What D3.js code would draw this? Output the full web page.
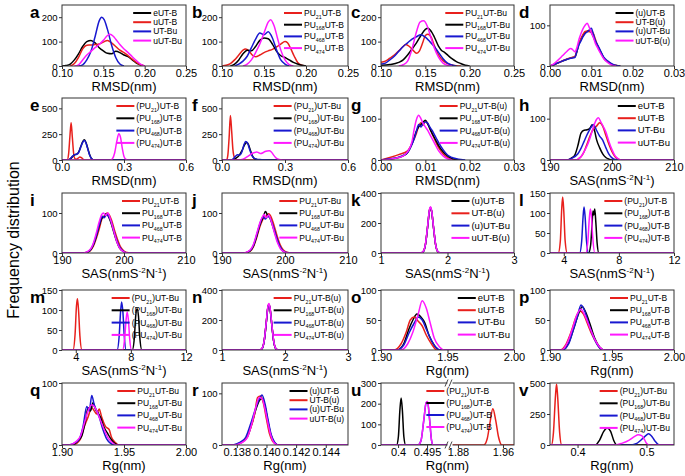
<!DOCTYPE html>
<html><head><meta charset="utf-8">
<script src="https://cdn.jsdelivr.net/npm/d3@7"></script>
<style>body{margin:0;background:#fff}svg{font-family:"Liberation Sans",Arial,sans-serif}</style>
</head><body><svg id="c" width="685" height="476"></svg>
<script>
// ---------- legend names ----------
const N_E = ['eUT-B','uUT-B','UT-Bu','uUT-Bu'];
const N_PU_B = ['PU_{21}UT-B','PU_{168}UT-B','PU_{468}UT-B','PU_{474}UT-B'];
const N_PU_BU = ['PU_{21}UT-Bu','PU_{168}UT-Bu','PU_{468}UT-Bu','PU_{474}UT-Bu'];
const N_U = ['(u)UT-B','UT-B(u)','(u)UT-Bu','uUT-B(u)'];
const N_PPU_B = ['(PU_{21})UT-B','(PU_{168})UT-B','(PU_{468})UT-B','(PU_{474})UT-B'];
const N_PPU_BU = ['(PU_{21})UT-Bu','(PU_{168})UT-Bu','(PU_{468})UT-Bu','(PU_{474})UT-Bu'];
const N_PU_BUU = ['PU_{21}UT-B(u)','PU_{168}UT-B(u)','PU_{468}UT-B(u)','PU_{474}UT-B(u)'];
// ---------- tick labels ----------
const T_RMSD1 = [0.10,0.15,0.20,0.25];
const T_RMSD2 = [0.00,0.01,0.02,0.03];
const T_RMSD3 = [0.0,0.3,0.6];
const T_SAS1 = [190,200,210];
const T_SAS2 = [1,2,3];
const T_SAS3 = [4,8,12];
const T_RG1 = [1.90,1.95,2.00];
const T_RG2 = [0.138,0.140,0.142,0.144];
const T_RG3L = [0.4,0.495];
const T_RG3R = [1.88,1.96];
const T_RG4 = [0.4,0.5];
// ---------- a ----------
const a_eUTB = [[0.10,0],[0.105,2],[0.11,8],[0.115,25],[0.12,50],[0.125,80],[0.13,100],[0.135,105],[0.14,95],[0.145,75],[0.15,62],[0.155,52],[0.16,50],[0.165,60],[0.17,55],[0.175,45],[0.18,38],[0.185,25],[0.19,12],[0.195,4],[0.20,0]];
const a_uUTB = [[0.11,0],[0.115,10],[0.12,35],[0.125,70],[0.13,85],[0.135,86],[0.14,88],[0.145,90],[0.15,98],[0.155,105],[0.16,95],[0.165,80],[0.17,65],[0.175,55],[0.18,42],[0.185,28],[0.19,15],[0.195,5],[0.20,0]];
const a_UTBu = [[0.12,0],[0.125,5],[0.13,25],[0.135,60],[0.14,120],[0.145,185],[0.148,200],[0.151,190],[0.155,150],[0.16,85],[0.165,35],[0.17,8],[0.175,0]];
const a_uUTBu = [[0.115,0],[0.12,5],[0.125,25],[0.13,45],[0.135,60],[0.14,75],[0.145,88],[0.15,105],[0.155,125],[0.158,130],[0.162,122],[0.165,110],[0.17,88],[0.175,70],[0.18,55],[0.185,38],[0.19,22],[0.195,8],[0.20,0]];
// ---------- b ----------
const b_21 = [[0.10,0],[0.105,3],[0.11,10],[0.115,25],[0.12,45],[0.125,65],[0.128,70],[0.132,62],[0.136,45],[0.14,38],[0.145,45],[0.15,55],[0.155,62],[0.16,68],[0.165,78],[0.17,90],[0.175,100],[0.178,95],[0.182,70],[0.186,40],[0.19,15],[0.195,3],[0.20,0]];
const b_168 = [[0.11,0],[0.115,8],[0.12,25],[0.125,50],[0.13,65],[0.135,62],[0.14,80],[0.145,105],[0.15,115],[0.155,112],[0.16,90],[0.165,60],[0.17,42],[0.175,35],[0.18,25],[0.185,15],[0.19,8],[0.195,3],[0.20,0]];
const b_468 = [[0.115,0],[0.12,8],[0.125,20],[0.13,40],[0.135,75],[0.14,110],[0.145,135],[0.15,128],[0.155,140],[0.16,115],[0.165,65],[0.17,25],[0.175,8],[0.18,0]];
const b_474 = [[0.125,0],[0.13,8],[0.135,25],[0.14,55],[0.145,90],[0.15,135],[0.155,180],[0.158,190],[0.162,165],[0.166,115],[0.17,65],[0.175,25],[0.18,6],[0.185,0]];
// ---------- c ----------
const c_21 = [[0.10,15],[0.105,20],[0.11,32],[0.115,45],[0.12,62],[0.125,80],[0.128,88],[0.132,80],[0.136,65],[0.14,52],[0.143,60],[0.147,95],[0.15,125],[0.153,130],[0.157,115],[0.16,85],[0.165,45],[0.17,22],[0.175,10],[0.18,4],[0.185,1],[0.19,0]];
const c_168 = [[0.10,3],[0.11,6],[0.12,15],[0.125,25],[0.13,45],[0.135,70],[0.14,95],[0.145,125],[0.15,150],[0.153,155],[0.157,140],[0.16,120],[0.165,80],[0.168,65],[0.172,55],[0.176,42],[0.18,30],[0.185,18],[0.19,10],[0.195,3],[0.20,0]];
const c_468 = [[0.10,8],[0.105,12],[0.11,25],[0.115,40],[0.12,60],[0.125,80],[0.13,95],[0.135,110],[0.14,120],[0.145,128],[0.15,118],[0.155,100],[0.16,80],[0.165,55],[0.17,30],[0.175,12],[0.18,4],[0.185,0]];
const c_474 = [[0.12,0],[0.125,5],[0.13,20],[0.135,70],[0.14,140],[0.144,180],[0.148,185],[0.152,165],[0.156,120],[0.16,75],[0.165,35],[0.17,12],[0.175,3],[0.18,0]];
// ---------- d ----------
const d_uUTB = [[0,0],[0.001,3],[0.002,8],[0.003,12],[0.004,16],[0.005,20],[0.006,22],[0.0065,35],[0.007,55],[0.0075,65],[0.008,75],[0.0085,82],[0.009,85],[0.0095,88],[0.010,82],[0.0105,72],[0.011,60],[0.0115,50],[0.012,40],[0.0125,30],[0.013,20],[0.014,10],[0.015,4],[0.016,1],[0.017,0]];
const d_UTBu_ = [[0,0],[0.002,8],[0.004,17],[0.005,20],[0.006,23],[0.0065,38],[0.007,55],[0.0075,68],[0.008,78],[0.0085,85],[0.009,86],[0.0095,84],[0.010,86],[0.0105,80],[0.011,65],[0.0115,50],[0.012,38],[0.013,20],[0.014,10],[0.015,4],[0.016,1],[0.017,0]];
const d_uUTBu = [[0,0],[0.002,8],[0.004,16],[0.005,19],[0.006,21],[0.0065,36],[0.007,52],[0.0075,62],[0.008,72],[0.0085,80],[0.009,84],[0.0095,88],[0.010,93],[0.0105,78],[0.011,62],[0.0115,52],[0.012,42],[0.013,22],[0.014,12],[0.015,5],[0.016,1],[0.017,0]];
const d_uUTBu_ = [[0,0],[0.001,6],[0.002,15],[0.003,25],[0.004,35],[0.005,43],[0.0055,40],[0.006,35],[0.0065,45],[0.007,65],[0.0075,80],[0.008,92],[0.0085,100],[0.009,105],[0.0095,95],[0.010,82],[0.0105,70],[0.011,55],[0.0115,45],[0.012,35],[0.013,18],[0.014,8],[0.015,2],[0.016,0]];
// ---------- e ----------
const e_21 = [[0,0],[0.025,0],[0.032,60],[0.038,220],[0.044,360],[0.05,220],[0.056,70],[0.062,15],[0.07,8],[0.078,18],[0.086,28],[0.094,22],[0.102,8],[0.11,0],[0.6,0]];
const e_168 = [[0,0],[0.03,0],[0.04,10],[0.05,30],[0.06,50],[0.07,55],[0.08,75],[0.09,125],[0.1,175],[0.108,195],[0.116,170],[0.125,110],[0.134,50],[0.142,15],[0.15,3],[0.16,0],[0.6,0]];
const e_468 = [[0,0],[0.03,0],[0.04,12],[0.05,35],[0.06,52],[0.07,55],[0.08,70],[0.09,120],[0.1,170],[0.108,188],[0.116,165],[0.125,105],[0.134,45],[0.142,15],[0.15,4],[0.16,0],[0.6,0]];
const e_474 = [[0,0],[0.235,0],[0.245,15],[0.255,70],[0.265,180],[0.275,255],[0.283,220],[0.292,110],[0.3,35],[0.31,6],[0.32,0],[0.6,0]];
// ---------- f ----------
const f_21 = [[0,0],[0.022,0],[0.028,50],[0.034,220],[0.04,430],[0.046,280],[0.052,100],[0.06,20],[0.07,3],[0.08,0],[0.6,0]];
const f_168 = [[0,0],[0.05,0],[0.065,15],[0.08,40],[0.095,90],[0.108,150],[0.118,170],[0.126,150],[0.135,95],[0.145,40],[0.155,12],[0.17,3],[0.19,0],[0.6,0]];
const f_468 = [[0,0],[0.045,0],[0.055,15],[0.065,38],[0.075,50],[0.085,48],[0.095,80],[0.105,150],[0.113,178],[0.122,160],[0.132,100],[0.142,45],[0.152,18],[0.165,8],[0.18,5],[0.2,2],[0.22,0],[0.6,0]];
const f_474 = [[0,0],[0.08,0],[0.1,8],[0.115,25],[0.13,45],[0.145,65],[0.155,72],[0.165,78],[0.175,70],[0.185,62],[0.195,70],[0.205,82],[0.215,88],[0.225,90],[0.235,78],[0.245,50],[0.255,25],[0.265,10],[0.28,2],[0.3,0],[0.6,0]];
// ---------- g ----------
const g_21 = [[0,0],[0.002,6],[0.004,13],[0.006,22],[0.007,40],[0.008,65],[0.0085,82],[0.009,90],[0.0095,84],[0.01,95],[0.0105,88],[0.011,78],[0.0115,65],[0.012,52],[0.013,30],[0.014,15],[0.015,6],[0.016,2],[0.017,0]];
const g_168 = [[0,0],[0.002,2],[0.004,6],[0.005,10],[0.006,18],[0.007,40],[0.0075,55],[0.008,70],[0.0085,80],[0.009,85],[0.0095,92],[0.01,96],[0.0105,88],[0.011,76],[0.0115,65],[0.012,55],[0.0125,45],[0.013,35],[0.014,20],[0.015,10],[0.016,4],[0.017,1],[0.018,0]];
const g_468 = [[0,0],[0.002,3],[0.004,7],[0.005,11],[0.006,18],[0.007,38],[0.0075,52],[0.008,70],[0.0085,86],[0.009,80],[0.0095,88],[0.01,92],[0.0105,90],[0.011,80],[0.0115,72],[0.012,62],[0.0125,52],[0.013,42],[0.014,25],[0.015,12],[0.016,6],[0.017,3],[0.018,1],[0.019,0]];
const g_474 = [[0,0],[0.002,2],[0.004,6],[0.005,10],[0.006,20],[0.007,45],[0.0075,75],[0.008,98],[0.0085,108],[0.009,100],[0.0095,88],[0.01,80],[0.0105,72],[0.011,62],[0.0115,52],[0.012,42],[0.013,22],[0.014,10],[0.015,3],[0.016,0]];
// ---------- h ----------
const h_eUTB = [[190,0],[192.8,0],[193.5,5],[194,12],[194.5,35],[195,65],[195.5,72],[196,73],[196.5,78],[196.8,85],[197.2,70],[197.5,50],[198,30],[198.5,15],[199,6],[199.5,2],[200,0],[210,0]];
const h_uUTB = [[190,0],[194,0],[195,8],[195.5,20],[196,40],[196.5,60],[197,75],[197.5,82],[198,90],[198.5,82],[199,60],[199.5,38],[200,20],[200.5,8],[201,2],[201.5,0],[210,0]];
const h_UTBu = [[190,0],[192.5,0],[193.5,4],[194.5,15],[195,28],[195.5,45],[196,62],[196.5,76],[197,86],[197.5,72],[198,58],[198.5,48],[199,30],[199.5,14],[200,5],[200.5,1],[201,0],[210,0]];
const h_uUTBu = [[190,0],[194,0],[195,8],[195.5,20],[196,35],[196.5,55],[197,80],[197.5,98],[197.8,102],[198.2,92],[198.7,78],[199,68],[199.5,45],[200,25],[200.5,10],[201,3],[201.5,0],[210,0]];
// ---------- i ----------
const i_21 = [[190,0],[193.5,0],[194.5,5],[195,15],[195.5,35],[196,60],[196.5,88],[197,95],[197.3,100],[197.6,96],[198,82],[198.5,55],[199,32],[199.5,14],[200,5],[200.5,1],[201,0],[210,0]];
const i_168 = [[190,0],[193.5,0],[194.5,6],[195,18],[195.5,40],[196,68],[196.5,88],[196.8,90],[197.1,98],[197.4,94],[197.8,80],[198.3,55],[198.8,30],[199.3,12],[200,3],[200.5,0],[210,0]];
const i_468 = [[190,0],[193.5,0],[194.5,7],[195,20],[195.5,42],[196,70],[196.5,92],[196.8,88],[197.2,96],[197.6,90],[198,75],[198.5,48],[199,25],[199.5,10],[200,3],[200.5,0],[210,0]];
const i_474 = [[190,0],[193.5,0],[194.5,8],[195,22],[195.5,48],[196,78],[196.4,96],[196.7,100],[197,94],[197.4,100],[197.8,85],[198.3,58],[198.8,30],[199.3,12],[200,3],[200.5,0],[210,0]];
// ---------- j ----------
const j_21 = [[190,0],[193.5,0],[194.5,5],[195,16],[195.5,38],[196,65],[196.5,85],[197,92],[197.4,98],[197.8,90],[198.2,72],[198.7,45],[199.2,22],[199.7,8],[200.3,2],[201,0],[210,0]];
const j_168 = [[190,0],[193.5,0],[194.5,6],[195,18],[195.5,42],[196,70],[196.5,88],[196.9,104],[197.2,95],[197.6,88],[198,70],[198.5,45],[199,22],[199.5,8],[200,2],[200.5,0],[210,0]];
const j_468 = [[190,0],[193.5,0],[194.5,7],[195,20],[195.5,45],[196,72],[196.5,90],[196.9,85],[197.3,92],[197.7,85],[198.1,68],[198.6,42],[199.1,20],[199.6,7],[200.2,1],[200.8,0],[210,0]];
const j_474 = [[190,0],[193.5,0],[194.5,8],[195,22],[195.5,48],[196,75],[196.4,90],[196.7,96],[197,88],[197.4,95],[197.8,80],[198.3,52],[198.8,26],[199.3,10],[200,2],[200.5,0],[210,0]];
// ---------- k ----------
const k_uUTB = [[1,0],[1.6,0],[1.64,12],[1.67,60],[1.7,170],[1.73,285],[1.745,300],[1.76,280],[1.79,170],[1.82,60],[1.85,12],[1.89,0],[3,0]];
const k_UTBu_ = [[1,0],[1.6,0],[1.64,13],[1.67,62],[1.7,172],[1.73,287],[1.745,302],[1.76,282],[1.79,168],[1.82,58],[1.85,11],[1.89,0],[3,0]];
const k_uUTBu = [[1,0],[1.6,0],[1.64,12],[1.67,61],[1.7,171],[1.73,288],[1.745,304],[1.76,283],[1.79,169],[1.82,59],[1.85,12],[1.89,0],[3,0]];
const k_uUTBu_ = [[1,0],[1.6,0],[1.64,14],[1.67,64],[1.7,176],[1.73,292],[1.745,308],[1.76,286],[1.79,172],[1.82,61],[1.85,13],[1.89,0],[3,0]];
// ---------- l ----------
const l_21 = [[3,0],[3.6,0],[3.75,30],[3.85,110],[3.92,140],[4.0,105],[4.1,30],[4.25,0],[12,0]];
const l_168 = [[3,0],[5.8,0],[5.95,20],[6.05,70],[6.12,105],[6.18,95],[6.25,110],[6.33,75],[6.42,25],[6.55,0],[12,0]];
const l_468 = [[3,0],[5.15,0],[5.3,30],[5.4,90],[5.47,115],[5.55,90],[5.65,30],[5.8,0],[12,0]];
const l_474 = [[3,0],[5.6,0],[5.75,30],[5.85,85],[5.93,110],[6.0,95],[6.1,40],[6.25,0],[12,0]];
// ---------- m ----------
const m_21 = [[3,0],[3.8,0],[3.95,40],[4.05,110],[4.12,128],[4.2,100],[4.3,35],[4.45,0],[12,0]];
const m_168 = [[3,0],[8.1,0],[8.25,30],[8.35,85],[8.45,103],[8.55,85],[8.65,30],[8.8,0],[12,0]];
const m_468 = [[3,0],[7.0,0],[7.15,35],[7.25,95],[7.33,120],[7.42,95],[7.52,35],[7.65,0],[12,0]];
const m_474 = [[3,0],[7.4,0],[7.55,30],[7.65,75],[7.73,95],[7.82,75],[7.92,25],[8.05,0],[12,0]];
// ---------- n ----------
const n_21 = [[1,0],[1.6,0],[1.64,12],[1.67,60],[1.7,172],[1.73,290],[1.745,305],[1.76,285],[1.79,172],[1.82,60],[1.85,12],[1.89,0],[3,0]];
const n_168 = [[1,0],[1.6,0],[1.64,13],[1.67,62],[1.7,170],[1.73,288],[1.745,303],[1.76,282],[1.79,170],[1.82,59],[1.85,12],[1.89,0],[3,0]];
const n_468 = [[1,0],[1.6,0],[1.64,12],[1.67,61],[1.7,171],[1.73,289],[1.745,304],[1.76,284],[1.79,171],[1.82,60],[1.85,12],[1.89,0],[3,0]];
const n_474 = [[1,0],[1.6,0],[1.64,14],[1.67,64],[1.7,176],[1.73,294],[1.745,310],[1.76,288],[1.79,174],[1.82,62],[1.85,13],[1.89,0],[3,0]];
// ---------- o ----------
const o_eUTB = [[1.90,0],[1.912,0],[1.917,10],[1.921,35],[1.924,50],[1.927,60],[1.930,55],[1.933,45],[1.936,25],[1.940,8],[1.944,0],[2.0,0]];
const o_uUTB = [[1.90,0],[1.910,0],[1.915,10],[1.919,30],[1.922,50],[1.925,55],[1.928,48],[1.931,40],[1.934,25],[1.938,10],[1.942,0],[2.0,0]];
const o_UTBu = [[1.90,0],[1.912,0],[1.917,8],[1.921,28],[1.925,45],[1.928,55],[1.931,50],[1.934,35],[1.937,20],[1.941,5],[1.945,0],[2.0,0]];
const o_uUTBu = [[1.90,0],[1.915,0],[1.920,10],[1.924,30],[1.928,60],[1.931,82],[1.934,70],[1.937,45],[1.940,20],[1.944,5],[1.948,0],[2.0,0]];
// ---------- p ----------
const p_21 = [[1.90,0],[1.908,0],[1.913,10],[1.917,30],[1.921,55],[1.924,65],[1.927,60],[1.930,45],[1.934,25],[1.938,10],[1.942,0],[2.0,0]];
const p_168 = [[1.90,0],[1.910,0],[1.915,12],[1.919,35],[1.923,60],[1.926,72],[1.929,62],[1.932,45],[1.936,20],[1.940,5],[1.944,0],[2.0,0]];
const p_468 = [[1.90,0],[1.910,0],[1.915,10],[1.919,35],[1.922,55],[1.925,75],[1.928,65],[1.931,45],[1.935,22],[1.939,6],[1.943,0],[2.0,0]];
const p_474 = [[1.90,0],[1.909,0],[1.914,12],[1.918,35],[1.922,60],[1.925,68],[1.928,58],[1.932,38],[1.936,18],[1.940,5],[1.944,0],[2.0,0]];
// ---------- q ----------
const q_21 = [[1.90,0],[1.908,0],[1.912,3],[1.915,10],[1.918,30],[1.921,45],[1.924,60],[1.926,55],[1.928,50],[1.930,58],[1.932,45],[1.935,30],[1.938,25],[1.940,12],[1.943,4],[1.946,0],[2.0,0]];
const q_168 = [[1.90,0],[1.908,0],[1.912,5],[1.916,15],[1.919,40],[1.921,60],[1.923,55],[1.925,68],[1.927,58],[1.929,52],[1.931,45],[1.934,28],[1.937,18],[1.940,8],[1.943,2],[1.945,0],[2.0,0]];
const q_468 = [[1.90,0],[1.905,0],[1.910,3],[1.914,10],[1.917,30],[1.920,62],[1.922,55],[1.924,80],[1.926,65],[1.928,55],[1.930,45],[1.933,25],[1.936,10],[1.939,3],[1.942,0],[2.0,0]];
const q_474 = [[1.90,0],[1.906,0],[1.911,5],[1.915,15],[1.918,35],[1.921,55],[1.924,65],[1.926,62],[1.928,55],[1.931,40],[1.934,25],[1.937,12],[1.940,5],[1.944,0],[2.0,0]];
// ---------- r ----------
const r_uUTB = [[0.137,0],[0.1378,0],[0.1383,5],[0.1387,15],[0.1390,40],[0.1393,70],[0.1395,85],[0.1397,90],[0.1399,75],[0.1401,45],[0.1403,20],[0.1405,6],[0.1408,0],[0.1455,0]];
const r_UTBu_ = [[0.137,0],[0.1378,0],[0.1382,3],[0.1386,12],[0.1389,30],[0.1392,60],[0.1394,92],[0.1396,95],[0.1398,80],[0.1400,50],[0.1402,22],[0.1404,8],[0.1406,2],[0.1408,0],[0.1455,0]];
const r_uUTBu = [[0.137,0],[0.1377,0],[0.1382,5],[0.1386,15],[0.1389,38],[0.1392,65],[0.1395,88],[0.1397,97],[0.1399,80],[0.1401,50],[0.1403,22],[0.1405,8],[0.1408,0],[0.1455,0]];
const r_uUTBu_ = [[0.137,0],[0.1378,0],[0.1383,4],[0.1387,14],[0.1390,40],[0.1393,75],[0.1395,92],[0.1397,90],[0.1399,70],[0.1401,42],[0.1403,18],[0.1405,5],[0.1408,0],[0.1455,0]];
// ---------- u (broken axis) ----------
const u_21 = [[1.8676,0],[1.926,0],[1.932,30],[1.937,110],[1.942,175],[1.947,120],[1.952,40],[1.958,0],[1.98,0]];
const u_168 = [[0.344,0],[0.395,0],[0.401,40],[0.406,170],[0.410,228],[0.414,170],[0.419,40],[0.425,0],[0.567,0]];
const u_468 = [[0.344,0],[0.465,0],[0.475,20],[0.485,128],[0.492,204],[0.497,208],[0.503,128],[0.51,20],[0.515,0],[0.567,0]];
const u_474 = [[0.344,0],[0.465,0],[0.475,20],[0.485,130],[0.492,205],[0.497,210],[0.503,130],[0.51,20],[0.515,0],[0.567,0]];
// ---------- v ----------
const v_21 = [[0.36,0],[0.362,0],[0.365,100],[0.368,400],[0.3695,490],[0.371,400],[0.374,100],[0.377,0],[0.54,0]];
const v_168 = [[0.36,0],[0.426,0],[0.432,40],[0.438,110],[0.443,138],[0.448,110],[0.453,30],[0.457,0],[0.54,0]];
const v_468 = [[0.36,0],[0.478,0],[0.485,10],[0.49,30],[0.495,55],[0.50,80],[0.503,90],[0.507,75],[0.512,35],[0.517,5],[0.52,0],[0.54,0]];
const v_474 = [[0.36,0],[0.455,0],[0.465,15],[0.475,40],[0.483,70],[0.488,82],[0.493,75],[0.497,45],[0.50,15],[0.505,0],[0.54,0]];

// ---------- layout / style ----------
const K='#000000', R='#e8201c', B='#1818d0', M='#ff18ff';
const C_E=[K,R,B,M], C_P=[R,K,B,M];
const COLS=[[62,186],[222,348],[381,514],[550,674]];
const ROWS=[[5,66],[98,160],[193,253],[290,350],[383,445]];
const LETTER_X=[30,192,351,519];
const RMSD='RMSD(nm)', SAS='SAS(nmS^{-2}N^{-1})', RG='Rg(nm)';

const PANELS=[
 {id:'a',c:0,r:0,xd:[0.10,0.25],xt:T_RMSD1,xf:'.2f',yd:[0,250],yt:[0,100,200],xl:RMSD,names:N_E,cols:C_E,ser:[a_eUTB,a_uUTB,a_UTBu,a_uUTBu],sp:9.2},
 {id:'b',c:1,r:0,xd:[0.10,0.25],xt:T_RMSD1,xf:'.2f',yd:[0,250],yt:[0,100,200],xl:RMSD,names:N_PU_B,cols:C_P,ser:[b_21,b_168,b_468,b_474],sp:11.7},
 {id:'c',c:2,r:0,xd:[0.10,0.25],xt:T_RMSD1,xf:'.2f',yd:[0,250],yt:[0,100,200],xl:RMSD,names:N_PU_BU,cols:C_P,ser:[c_21,c_168,c_468,c_474],sp:11.7},
 {id:'d',c:3,r:0,xd:[0,0.03],xt:T_RMSD2,xf:'.2f',yd:[0,150],yt:[0,100],xl:RMSD,names:N_U,cols:C_E,ser:[d_uUTB,d_UTBu_,d_uUTBu,d_uUTBu_],sp:9.2},
 {id:'e',c:0,r:1,xd:[0,0.6],xt:T_RMSD3,xf:'.1f',yd:[0,600],yt:[0,250,500],xl:RMSD,names:N_PPU_B,cols:C_P,ser:[e_21,e_168,e_468,e_474],sp:12.3},
 {id:'f',c:1,r:1,xd:[0,0.6],xt:T_RMSD3,xf:'.1f',yd:[0,600],yt:[0,250,500],xl:RMSD,names:N_PPU_BU,cols:C_P,ser:[f_21,f_168,f_468,f_474],sp:12.3},
 {id:'g',c:2,r:1,xd:[0,0.03],xt:T_RMSD2,xf:'.2f',yd:[0,150],yt:[0,100],xl:RMSD,names:N_PU_BUU,cols:C_P,ser:[g_21,g_168,g_468,g_474],sp:12.3},
 {id:'h',c:3,r:1,xd:[190,210],xt:T_SAS1,xf:'d',yd:[0,150],yt:[0,100],xl:SAS,names:N_E,cols:C_E,ser:[h_eUTB,h_uUTB,h_UTBu,h_uUTBu],sp:12.2,lf:9.5},
 {id:'i',c:0,r:2,xd:[190,210],xt:T_SAS1,xf:'d',yd:[0,150],yt:[0,100],xl:SAS,names:N_PU_B,cols:C_P,ser:[i_21,i_168,i_468,i_474],sp:12.2},
 {id:'j',c:1,r:2,xd:[190,210],xt:T_SAS1,xf:'d',yd:[0,150],yt:[0,100],xl:SAS,names:N_PU_BU,cols:C_P,ser:[j_21,j_168,j_468,j_474],sp:12.2},
 {id:'k',c:2,r:2,xd:[1,3],xt:T_SAS2,xf:'d',yd:[0,400],yt:[0,200,400],xl:SAS,names:N_U,cols:C_E,ser:[k_uUTB,k_UTBu_,k_uUTBu,k_uUTBu_],sp:12.3,lf:9.5},
 {id:'l',c:3,r:2,xd:[3,12],xt:T_SAS3,xf:'d',yd:[0,150],yt:[0,50,100,150],xl:SAS,names:N_PPU_B,cols:C_P,ser:[l_21,l_168,l_468,l_474],sp:12.3},
 {id:'m',c:0,r:3,xd:[3,12],xt:T_SAS3,xf:'d',yd:[0,150],yt:[0,50,100,150],xl:SAS,names:N_PPU_BU,cols:C_P,ser:[m_21,m_168,m_468,m_474],sp:12.3},
 {id:'n',c:1,r:3,xd:[1,3],xt:T_SAS2,xf:'d',yd:[0,400],yt:[0,200,400],xl:SAS,names:N_PU_BUU,cols:C_P,ser:[n_21,n_168,n_468,n_474],sp:12.3},
 {id:'o',c:2,r:3,xd:[1.90,2.00],xt:T_RG1,xf:'.2f',yd:[0,100],yt:[0,50,100],xl:RG,names:N_E,cols:C_E,ser:[o_eUTB,o_uUTB,o_UTBu,o_uUTBu],sp:12.2,lf:9.5},
 {id:'p',c:3,r:3,xd:[1.90,2.00],xt:T_RG1,xf:'.2f',yd:[0,100],yt:[0,50,100],xl:RG,names:N_PU_B,cols:C_P,ser:[p_21,p_168,p_468,p_474],sp:12.2},
 {id:'q',c:0,r:4,xd:[1.90,2.00],xt:T_RG1,xf:'.2f',yd:[0,100],yt:[0,100],xl:RG,names:N_PU_BU,cols:C_P,ser:[q_21,q_168,q_468,q_474],sp:12.2},
 {id:'r',c:1,r:4,xd:[0.137,0.1455],xt:T_RG2,xf:'.3f',yd:[0,120],yt:[0,100],xl:RG,names:N_U,cols:C_E,ser:[r_uUTB,r_UTBu_,r_uUTBu,r_uUTBu_],sp:9.2},
 {id:'u',c:2,r:4,broken:true,yd:[0,300],yt:[0,100,200,300],xl:RG,names:N_PPU_B,cols:C_P,ser:[u_21,u_168,u_468,u_474],sp:12,pad:22},
 {id:'v',c:3,r:4,xd:[0.36,0.54],xt:T_RG4,xf:'.1f',yd:[0,500],yt:[0,250,500],xl:RG,names:N_PPU_BU,cols:C_P,ser:[v_21,v_168,v_468,v_474],sp:12.3}
];

const svg=d3.select('#c');
const FONT_Y=9.5, FONT_X=11, FONT_LEG=8.5, FONT_TITLE=13;

function rich(sel,str,size){
  const parts=str.split(/(_\{[^}]*\}|\^\{[^}]*\})/).filter(s=>s.length);
  let shift=0;
  parts.forEach(p=>{
    const t=sel.append('tspan');
    if(p.startsWith('_{')){t.text(p.slice(2,-1)).attr('font-size',size*0.62).attr('dy',size*0.3-shift);shift=size*0.3;}
    else if(p.startsWith('^{')){t.text(p.slice(2,-1)).attr('font-size',size*0.62).attr('dy',-size*0.42-shift);shift=-size*0.42;}
    else{t.text(p).attr('dy',-shift);shift=0;}
  });
}

PANELS.forEach((p,pi)=>{
  const [x0,x1]=COLS[p.c],[y0,y1]=ROWS[p.r];
  const g=svg.append('g');
  const y=d3.scaleLinear().domain(p.yd).range([y1,y0]);
  let xf, axes=[];
  if(p.broken){
    const xL=d3.scaleLinear().domain([0.344,0.567]).range([x0,449]);
    const xR=d3.scaleLinear().domain([1.8676,1.9796]).range([451,x1]);
    xf=v=>v<1?xL(v):xR(v);
    axes=[[xL,T_RG3L,v=>v===0.4?'0.4':'0.495'],[xR,T_RG3R,d3.format('.2f')]];
  } else {
    const x=d3.scaleLinear().domain(p.xd).range([x0,x1]);
    xf=v=>x(v);
    axes=[[x,p.xt,d3.format(p.xf)]];
  }
  const cid='clip'+pi;
  svg.append('clipPath').attr('id',cid).append('rect').attr('x',x0).attr('y',y0-1).attr('width',x1-x0).attr('height',y1-y0+1);
  const line=d3.line().x(d=>xf(d[0])).y(d=>y(d[1])).curve(d3.curveMonotoneX);
  const cg=g.append('g').attr('clip-path',`url(#${cid})`);
  p.ser.forEach((s,i)=>cg.append('path').attr('d',line(s)).attr('fill','none').attr('stroke',p.cols[i]).attr('stroke-width',1.5).attr('stroke-linejoin','round'));
  axes.forEach(([sc,tv,fm])=>{
    const ax=g.append('g').attr('transform',`translate(0,${y1})`).call(d3.axisBottom(sc).tickValues(tv).tickFormat(fm).tickSize(3).tickPadding(0.5).tickSizeOuter(0));
    ax.select('.domain').remove();
    ax.selectAll('line').attr('stroke','#333');
    ax.selectAll('text').attr('font-size',FONT_X).attr('fill','#000').attr('font-family','"Liberation Sans",Arial,sans-serif');
  });
  const ay=g.append('g').attr('transform',`translate(${x0},0)`).call(d3.axisLeft(y).tickValues(p.yt).tickFormat(d3.format('d')).tickSize(3).tickPadding(1.5).tickSizeOuter(0));
  ay.select('.domain').remove();
  ay.selectAll('line').attr('stroke','#333');
  ay.selectAll('text').attr('font-size',FONT_Y).attr('fill','#000').attr('font-family','"Liberation Sans",Arial,sans-serif');
  g.append('rect').attr('x',x0).attr('y',y0).attr('width',x1-x0).attr('height',y1-y0).attr('fill','none').attr('stroke','#333').attr('stroke-width',1);
  if(p.broken){
    [y0,y1].forEach(yy=>{
      g.append('rect').attr('x',447.5).attr('y',yy-3).attr('width',5).attr('height',6).attr('fill','#fff');
      [446.5,450.5].forEach(xx=>g.append('line').attr('x1',xx-1.5).attr('y1',yy+3.5).attr('x2',xx+1.5).attr('y2',yy-3.5).attr('stroke','#333').attr('stroke-width',0.9));
    });
  }
  g.append('text').attr('x',LETTER_X[p.c]).attr('y',y0+13).attr('font-size',17).attr('font-weight','bold').text(p.id);
  const xt=g.append('text').attr('x',(x0+x1)/2).attr('y',y1+25).attr('text-anchor','middle').attr('font-size',FONT_TITLE);
  rich(xt,p.xl,FONT_TITLE);
  const lf=p.lf||FONT_LEG;
  const lg=g.append('g');
  const items=p.names.map((nm,i)=>{
    const t=lg.append('text').attr('font-size',lf).attr('y',y0+8+i*p.sp+3);
    rich(t,nm,lf);
    return t;
  });
  const maxW=d3.max(items,t=>t.node().getComputedTextLength());
  const tx=x1-(p.pad||4)-maxW;
  items.forEach((t,i)=>{
    t.attr('x',tx);
    lg.append('line').attr('x1',tx-20).attr('x2',tx-2).attr('y1',y0+8+i*p.sp).attr('y2',y0+8+i*p.sp).attr('stroke',p.cols[i]).attr('stroke-width',2);
  });
});

svg.append('text').attr('transform','translate(19,240) rotate(-90)').attr('text-anchor','middle').attr('font-size',16).text('Frequency distribution');
</script></body></html>
